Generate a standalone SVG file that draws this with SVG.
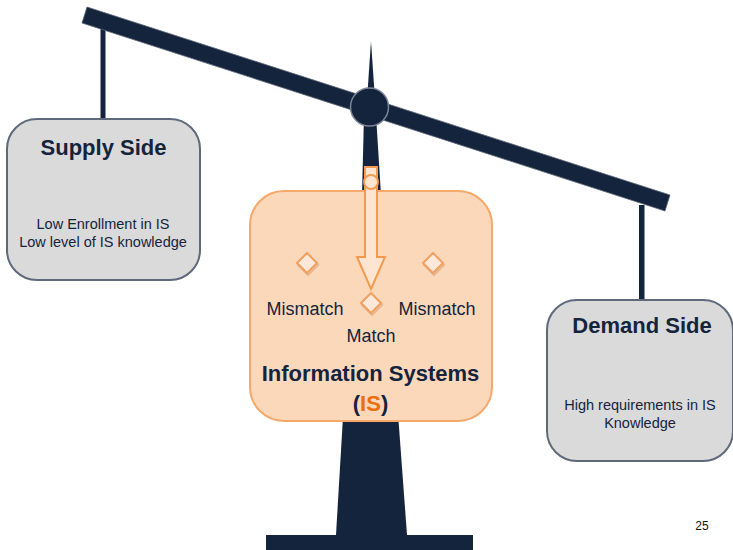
<svg xmlns="http://www.w3.org/2000/svg" width="733" height="550" viewBox="0 0 733 550">
<defs>
<style>
.navy{fill:#15243d;}
.side{fill:#dadada;stroke:#5e6a7a;stroke-width:2;}
.title{font-family:"Liberation Sans",Arial,sans-serif;font-weight:bold;font-size:22px;fill:#15243d;text-anchor:middle;}
.small{font-family:"Liberation Sans",Arial,sans-serif;font-size:14.5px;fill:#15243d;text-anchor:middle;}
.lbl{font-family:"Liberation Sans",Arial,sans-serif;font-size:18px;fill:#15243d;text-anchor:middle;}
.dia{fill:#fde8da;stroke:#f0a060;stroke-width:2;}
.dsh{fill:none;stroke:#d9a070;stroke-width:2;opacity:0.6;}
.arr{fill:#fde5d2;stroke:#f29b4f;stroke-width:2;}
</style>
</defs>
<rect width="733" height="550" fill="#ffffff"/>
<g id="scale">
<polygon class="navy" points="344,400 397,400 407,535 336,535"/>
<rect class="navy" x="266" y="535" width="207" height="15"/>
<rect class="navy" x="100.5" y="20" width="5" height="100"/>
<rect class="navy" x="639" y="205" width="5.5" height="96"/>
<polygon class="navy" points="87,7 670,195 665,211 82,23" stroke="#5a6576" stroke-width="0.8"/>
<polygon class="navy" points="371,41 375,100 367,100"/>
<polygon class="navy" points="364,115 376,115 381,195 362,195"/>
<circle class="navy" cx="369.5" cy="107" r="19" stroke="#7b8594" stroke-width="1.5"/>
</g>
<g id="supply">
<rect class="side" x="7" y="119" width="193" height="161" rx="30"/>
<text class="title" x="103.5" y="155">Supply Side</text>
<text class="small" x="103" y="229">Low Enrollment in IS</text>
<text class="small" x="103" y="247">Low level of IS knowledge</text>
</g>
<g id="demand">
<rect class="side" x="547" y="300" width="186" height="161" rx="30"/>
<text class="title" x="642" y="333">Demand Side</text>
<text class="small" x="640" y="410">High requirements in IS</text>
<text class="small" x="640" y="428">Knowledge</text>
</g>
<g id="is">
<rect x="250" y="191" width="242" height="230" rx="34" fill="#fcd8bb" stroke="#f5a868" stroke-width="2"/>
<text class="title" x="370.5" y="381" font-size="22.5">Information Systems</text>
<text class="title" x="370.5" y="411">(<tspan fill="#e8700f">IS</tspan>)</text>
</g>
<g id="arrow">
<path class="arr" d="M365,167 L377,167 L377,257 L385,257 L371,289 L357,257 L365,257 Z"/>
<circle class="arr" cx="371" cy="182" r="7"/>
</g>
<g id="mismatch-left">
<path class="dsh" d="M308,255 L318,265 L308,275 L298,265 Z"/>
<path class="dia" d="M307,253 L317,263 L307,273 L297,263 Z"/>
<text class="lbl" x="305" y="315">Mismatch</text>
</g>
<g id="mismatch-right">
<path class="dsh" d="M434,255 L444,265 L434,275 L424,265 Z"/>
<path class="dia" d="M433,253 L443,263 L433,273 L423,263 Z"/>
<text class="lbl" x="437" y="315">Mismatch</text>
</g>
<g id="match">
<path class="dsh" d="M372,295 L382,305 L372,315 L362,305 Z"/>
<path class="dia" d="M371,293 L381,303 L371,313 L361,303 Z"/>
<text class="lbl" x="371" y="342">Match</text>
</g>
<text x="702" y="530" font-family="'Liberation Sans',Arial,sans-serif" font-size="12" fill="#111" text-anchor="middle">25</text>
</svg>
